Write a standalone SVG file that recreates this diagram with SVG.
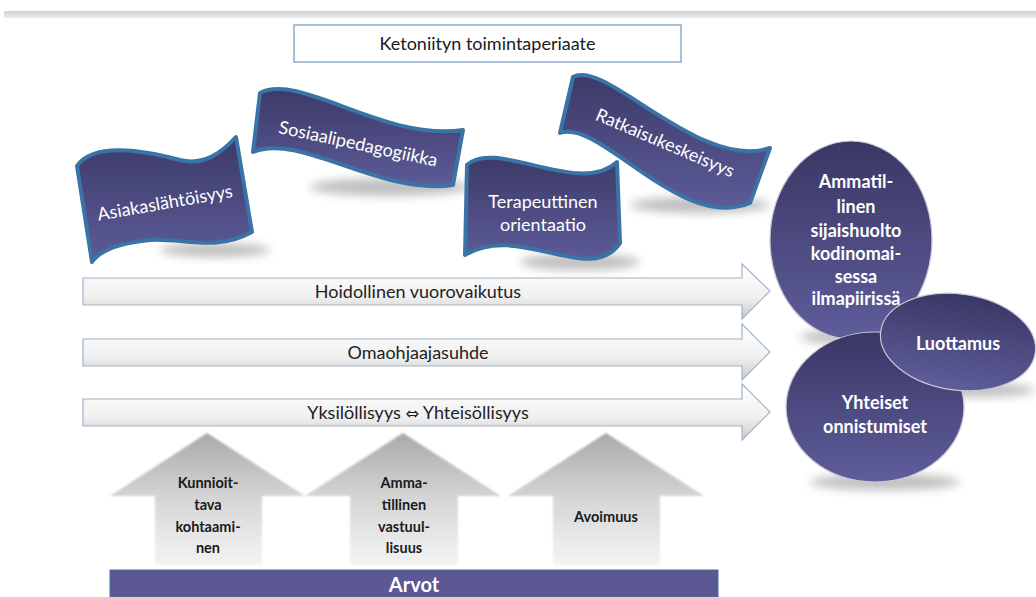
<svg xmlns="http://www.w3.org/2000/svg" width="1036" height="597" viewBox="0 0 1036 597">
<defs>
<linearGradient id="gBan" x1="0" y1="0" x2="0" y2="1"><stop offset="0" stop-color="#3b3a68"/><stop offset="1" stop-color="#5d5b98"/></linearGradient>
<linearGradient id="gCirc" x1="0" y1="0" x2="0" y2="1"><stop offset="0" stop-color="#393764"/><stop offset="1" stop-color="#5f5d9b"/></linearGradient>
<linearGradient id="gHArr" x1="0" y1="0" x2="0" y2="1"><stop offset="0" stop-color="#ffffff"/><stop offset="0.6" stop-color="#f0f0f0"/><stop offset="1" stop-color="#c8c8c8"/></linearGradient>
<linearGradient id="gUp" x1="0" y1="0" x2="0" y2="1"><stop offset="0" stop-color="#a9a9a9"/><stop offset="0.5" stop-color="#d6d6d6"/><stop offset="1" stop-color="#f4f4f4"/></linearGradient>
<linearGradient id="gBar" x1="0" y1="0" x2="0" y2="1"><stop offset="0" stop-color="#d0d0d0"/><stop offset="1" stop-color="#ececec"/></linearGradient>
<filter id="blur" x="-20%" y="-50%" width="140%" height="200%"><feGaussianBlur stdDeviation="5"/></filter>
<filter id="soft" x="-10%" y="-10%" width="120%" height="120%"><feGaussianBlur stdDeviation="1.3"/></filter>
</defs>
<style>
.ban{fill:url(#gBan);stroke:#3a73a6;stroke-width:4;stroke-linejoin:round}
.btx{font-family:Lato,"Open Sans",sans-serif;font-size:18px;fill:#ffffff;text-anchor:middle}
.circ{fill:url(#gCirc);stroke:#c9c9d9;stroke-width:1.2}
.ctx{font-family:Lato,"Open Sans",sans-serif;font-size:18px;font-weight:bold;fill:#ffffff;text-anchor:middle}
.harr{fill:url(#gHArr);stroke:#9fb3c9;stroke-width:1.2}
.htx{font-family:Lato,"Open Sans",sans-serif;font-size:18px;fill:#222222;text-anchor:middle}
.up{fill:url(#gUp)}
.utx{font-family:Lato,"Open Sans",sans-serif;font-size:14.5px;font-weight:bold;fill:#1a1a1a;text-anchor:middle}
.sh{fill:#8a8a8a;opacity:0.55;filter:url(#blur)}
</style>
<rect x="4" y="11" width="1032" height="7" fill="url(#gBar)"/>
<g id="title">
<rect x="294" y="25" width="387" height="37" fill="#ffffff" stroke="#7f9cc6" stroke-width="1.3"/>
<text x="487.5" y="50" font-family="Lato,'Open Sans',sans-serif" font-size="18" fill="#1a1a1a" text-anchor="middle">Ketoniityn toimintaperiaate</text>
</g>
<g id="banner-shadows">
<ellipse class="sh" cx="215" cy="250" rx="55" ry="7"/>
<ellipse class="sh" cx="390" cy="187" rx="80" ry="9"/>
<ellipse class="sh" cx="580" cy="262" rx="60" ry="8"/>
<ellipse class="sh" cx="700" cy="205" rx="70" ry="8"/>
</g>
<g id="asiakaslahtoisyys">
<path class="ban" d="M 77,166 C 95,140 150,152 180,160 C 205,166 222,152 236,137 L 252,232 C 215,252 185,238 150,240 C 120,243 100,250 92,262 Z"/>
<text class="btx" x="165" y="209" transform="rotate(-10 165 203)">Asiakaslähtöisyys</text>
</g>
<g id="sosiaalipedagogiikka">
<path class="ban" d="M 260,93 C 300,72 385,142 463,130 L 453,185 C 380,196 300,132 253,152 Z"/>
<text class="btx" x="358" y="150" transform="rotate(12 358 145)">Sosiaalipedagogiikka</text>
</g>
<g id="terapeuttinen">
<path class="ban" d="M 467,165 C 495,138 580,197 617,162 L 620,243 C 590,287 520,222 465,255 Z"/>
<text class="btx" x="543" y="208">Terapeuttinen</text>
<text class="btx" x="543" y="231">orientaatio</text>
</g>
<g id="ratkaisukeskeisyys">
<path class="ban" d="M 573,77 C 605,58 700,172 770,148 L 750,203 C 680,232 600,118 560,133 Z"/>
<text class="btx" x="665" y="149" transform="rotate(23 665 143)">Ratkaisukeskeisyys</text>
</g>
<g id="connectors">
<g id="arrow-hoidollinen">
<path d="M 85,306 L 742,306" stroke="#6a6a6a" stroke-width="3" opacity="0.6" filter="url(#soft)"/>
<path class="harr" d="M 83,278 L 742,278 L 742,264 L 770,291 L 742,319 L 742,305 L 83,305 Z"/>
<text class="htx" x="418" y="298">Hoidollinen vuorovaikutus</text>
</g>
<g id="arrow-omaohjaaja">
<path d="M 85,367 L 742,367" stroke="#6a6a6a" stroke-width="3" opacity="0.6" filter="url(#soft)"/>
<path class="harr" d="M 83,339 L 742,339 L 742,324 L 770,352 L 742,380 L 742,366 L 83,366 Z"/>
<text class="htx" x="418" y="359">Omaohjaajasuhde</text>
</g>
<g id="arrow-yksilollisyys">
<path d="M 85,427 L 742,427" stroke="#6a6a6a" stroke-width="3" opacity="0.6" filter="url(#soft)"/>
<path class="harr" d="M 83,399 L 742,399 L 742,384 L 770,412 L 742,440 L 742,426 L 83,426 Z"/>
<text class="htx" x="418" y="419">Yksilöllisyys <tspan font-family="'DejaVu Sans',sans-serif" font-size="16">⇔</tspan> Yhteisöllisyys</text>
</g>
</g>
<g id="circle-shadows">
<ellipse class="sh" cx="870" cy="337" rx="70" ry="8"/>
<ellipse class="sh" cx="885" cy="482" rx="75" ry="8"/>
<ellipse class="sh" cx="975" cy="390" rx="60" ry="7"/>
</g>
<g id="ammatillinen">
<ellipse class="circ" cx="851" cy="240" rx="81" ry="99"/>
<text class="ctx" x="856" y="188">Ammatil-</text>
<text class="ctx" x="856" y="213">linen</text>
<text class="ctx" x="856" y="237">sijaishuolto</text>
<text class="ctx" x="856" y="260">kodinomai-</text>
<text class="ctx" x="856" y="283">sessa</text>
<text class="ctx" x="856" y="305">ilmapiirissä</text>
</g>
<g id="yhteiset">
<ellipse class="circ" cx="875" cy="407" rx="89" ry="75"/>
<text class="ctx" x="875" y="409">Yhteiset</text>
<text class="ctx" x="875" y="433">onnistumiset</text>
</g>
<g id="luottamus">
<ellipse class="circ" cx="958" cy="342" rx="78" ry="48" transform="rotate(8 958 342)"/>
<text class="ctx" x="958" y="350">Luottamus</text>
</g>
<g id="kunnioittava">
<path class="up" filter="url(#soft)" d="M 207,433 L 305,496 L 262,496 L 262,565 L 155,565 L 155,496 L 110,496 Z"/>
<text class="utx" x="208" y="488">Kunnioit-</text>
<text class="utx" x="208" y="510">tava</text>
<text class="utx" x="208" y="532">kohtaami-</text>
<text class="utx" x="208" y="553">nen</text>
</g>
<g id="ammatillinen-vastuullisuus">
<path class="up" filter="url(#soft)" d="M 403,433 L 501,496 L 458,496 L 458,565 L 350,565 L 350,496 L 305,496 Z"/>
<text class="utx" x="404" y="488">Amma-</text>
<text class="utx" x="404" y="510">tillinen</text>
<text class="utx" x="404" y="532">vastuul-</text>
<text class="utx" x="404" y="553">lisuus</text>
</g>
<g id="avoimuus">
<path class="up" filter="url(#soft)" d="M 606,433 L 704,496 L 660,496 L 660,565 L 553,565 L 553,496 L 508,496 Z"/>
<text class="utx" x="606" y="522">Avoimuus</text>
</g>
<g id="arvot">
<rect x="110" y="570" width="608" height="27" fill="#5b5893" stroke="#4a6f9c" stroke-width="1"/>
<text x="414" y="592" font-family="Lato,'Open Sans',sans-serif" font-size="20" font-weight="bold" fill="#ffffff" text-anchor="middle">Arvot</text>
</g>
</svg>
